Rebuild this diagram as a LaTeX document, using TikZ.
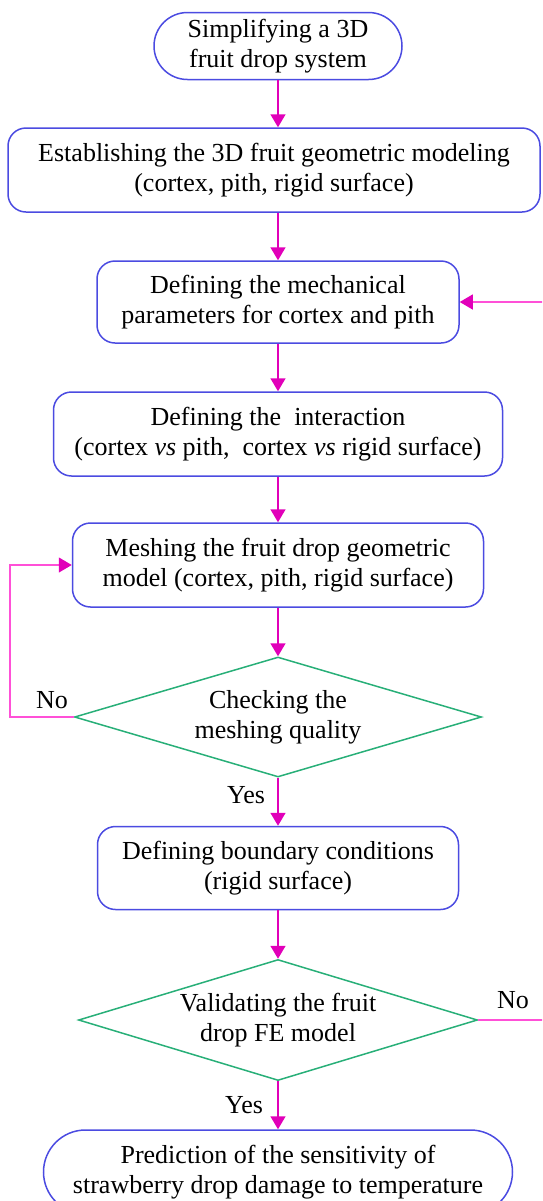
\documentclass[tikz,border=0pt]{standalone}
\usepackage{fontspec}
\setmainfont{Liberation Serif}
\usetikzlibrary{shapes.geometric,shapes.misc,arrows.meta}
\definecolor{boxblue}{RGB}{75,75,225}
\definecolor{diagreen}{RGB}{40,175,120}
\definecolor{arrowmag}{RGB}{225,0,185}
\definecolor{looppink}{RGB}{255,80,215}
\begin{document}
\begin{tikzpicture}[x=0.5pt,y=-0.5pt,
  txt/.style={font=\fontsize{13}{14.8}\selectfont, align=center, text=black},
  proc/.style={txt, draw=boxblue, line width=0.75pt, rounded corners=9pt, inner sep=0pt},
  term/.style={txt, draw=boxblue, line width=0.75pt, rounded rectangle, inner sep=0pt},
  decide/.style={txt, draw=diagreen, line width=0.75pt, diamond, inner sep=0pt, aspect=3},
  flow/.style={draw=arrowmag, color=arrowmag, line width=0.8pt, -{Triangle[length=6.5pt,width=7.5pt]}},
  back/.style={draw=looppink, color=looppink, line width=0.6pt, -{Triangle[length=6.5pt,width=7.5pt,color=arrowmag]}},
  lbl/.style={font=\fontsize{13}{14.8}\selectfont, text=black, inner sep=0pt}
]
\useasboundingbox (0,0) rectangle (542,1201);
\clip (0,0) rectangle (542,1201);

\node[term, minimum width=124pt, minimum height=33.5pt] (b1) at (278,46)
  {Simplifying a 3D\\fruit drop system};
\node[proc, minimum width=266pt, minimum height=42pt] (b2) at (274,170)
  {Establishing the 3D fruit geometric modeling\\(cortex, pith, rigid surface)};
\node[proc, minimum width=181pt, minimum height=41pt] (b3) at (278,302)
  {Defining the mechanical\\parameters for cortex and pith};
\node[proc, minimum width=224.5pt, minimum height=42pt] (b4) at (278,434)
  {Defining the\ \ interaction\\(cortex \textit{vs} pith,\ \ cortex \textit{vs} rigid surface)};
\node[proc, minimum width=205.5pt, minimum height=42pt] (b5) at (278,565)
  {Meshing the fruit drop geometric\\model (cortex, pith, rigid surface)};
\node[decide, minimum width=203.5pt, minimum height=60pt] (d1) at (278,717)
  {Checking the\\meshing quality};
\node[proc, minimum width=180.5pt, minimum height=41.5pt] (b6) at (278,868)
  {Defining boundary conditions\\(rigid surface)};
\node[decide, minimum width=199.5pt, minimum height=60.5pt] (d2) at (278,1020)
  {Validating the fruit\\drop FE model};
\node[term, minimum width=234.5pt, minimum height=42pt] (b7) at (278,1172)
  {Prediction of the sensitivity of\\strawberry drop damage to temperature};

\draw[flow] (b1.south) -- (b2.north -| b1.south);
\draw[flow] (b2.south -| b3.north) -- (b3.north);
\draw[flow] (b3.south) -- (b4.north);
\draw[flow] (b4.south) -- (b5.north);
\draw[flow] (b5.south) -- (d1.north);
\draw[flow] (d1.south) -- (b6.north);
\draw[flow] (b6.south) -- (d2.north);
\draw[flow] (d2.south) -- (b7.north);

\coordinate (L) at (10,565);
\draw[back] (d1.west) -| (L) -- (b5.west);
\coordinate (R) at (549,1020);
\draw[back] (d2.east) -- (R) |- (b3.east);

\node[lbl] (no1) at (52,700) {No};
\node[lbl] (yes1) at (246,795) {Yes};
\node[lbl] (yes2) at (244,1105) {Yes};
\node[lbl] (no2) at (513,1000) {No};
\end{tikzpicture}
\end{document}
